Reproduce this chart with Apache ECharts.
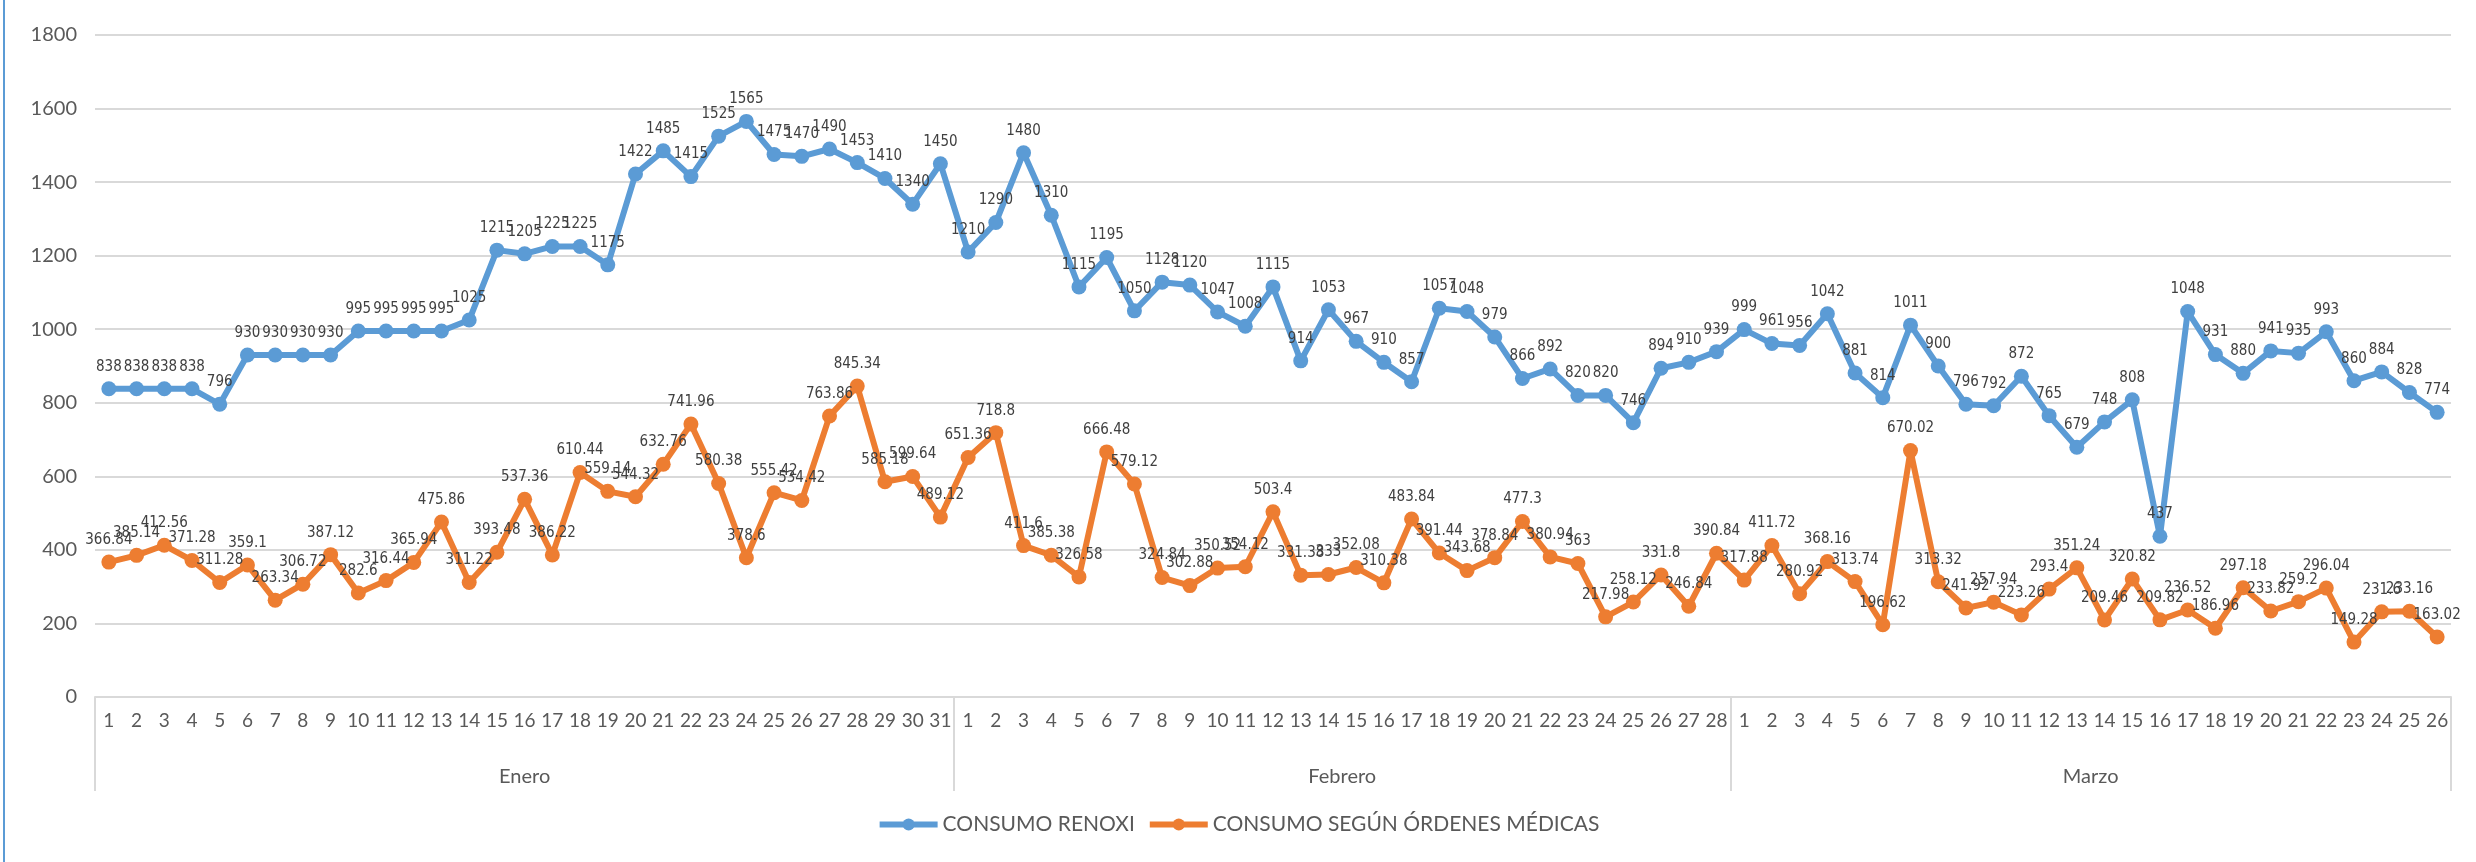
<!DOCTYPE html>
<html>
<head>
<meta charset="utf-8">
<title>Consumo</title>
<script src="https://cdn.jsdelivr.net/npm/echarts@6/dist/echarts.min.js"></script>
<style>
  html, body { margin: 0; padding: 0; background: #fff; }
  #chart { width: 2476px; height: 862px; position: relative; }
  #edge { position: absolute; left: 3px; top: 0; width: 2px; height: 862px; background: #5B9BD5; }
</style>
</head>
<body>
<div id="chart"></div>
<div id="edge"></div>
<script>
const monthNames = ["Enero", "Febrero", "Marzo"];
const monthDays = [31, 28, 26];

const renoxi = [
  838, 838, 838, 838, 796, 930, 930, 930, 930, 995, 995, 995, 995, 1025, 1215, 1205,
  1225, 1225, 1175, 1422, 1485, 1415, 1525, 1565, 1475, 1470, 1490, 1453, 1410, 1340, 1450,
  1210, 1290, 1480, 1310, 1115, 1195, 1050, 1128, 1120, 1047, 1008, 1115, 914, 1053,
  967, 910, 857, 1057, 1048, 979, 866, 892, 820, 820, 746, 894, 910, 939,
  999, 961, 956, 1042, 881, 814, 1011, 900, 796, 792, 872, 765, 679, 748, 808, 437,
  1048, 931, 880, 941, 935, 993, 860, 884, 828, 774
];

const ordenes = [
  366.84, 385.14, 412.56, 371.28, 311.28, 359.1, 263.34, 306.72, 387.12, 282.6, 316.44,
  365.94, 475.86, 311.22, 393.48, 537.36, 386.22, 610.44, 559.14, 544.32, 632.76, 741.96,
  580.38, 378.6, 555.42, 534.42, 763.86, 845.34, 585.18, 599.64, 489.12,
  651.36, 718.8, 411.6, 385.38, 326.58, 666.48, 579.12, 324.84, 302.88, 350.52, 354.12,
  503.4, 331.38, 333, 352.08, 310.38, 483.84, 391.44, 343.68, 378.84, 477.3, 380.94, 363,
  217.98, 258.12, 331.8, 246.84, 390.84,
  317.88, 411.72, 280.92, 368.16, 313.74, 196.62, 670.02, 313.32, 241.92, 257.94, 223.26,
  293.4, 351.24, 209.46, 320.82, 209.82, 236.52, 186.96, 297.18, 233.82, 259.2, 296.04,
  149.28, 231.6, 233.16, 163.02
];

const seriesNames = ["CONSUMO RENOXI", "CONSUMO SEGÚN ÓRDENES MÉDICAS"];

// etiquetas de dia (1..n por mes)
const dayLabels = [];
monthDays.forEach((n) => {
  for (let d = 1; d <= n; d++) dayLabels.push(String(d));
});

// eje de meses: medias posiciones, para poner separadores y nombres centrados
const totalDays = dayLabels.length;
const halfSlots = [];
const monthCenters = {};
const monthEdges = new Set([0]);
let acc = 0;
monthDays.forEach((n, i) => {
  monthCenters[acc * 2 + n] = monthNames[i];
  acc += n;
  monthEdges.add(acc * 2);
});
for (let i = 0; i <= totalDays * 2; i++) halfSlots.push(monthCenters[i] || "");

const font = "Lato, 'Open Sans', sans-serif";
const narrow = "'Liberation Sans Narrow', 'DejaVu Sans Condensed', Lato, sans-serif";
const chart = echarts.init(document.getElementById("chart"));

const labelStyle = {
  show: true,
  position: "top",
  distance: 7,
  color: "#404040",
  fontSize: 15,
  fontFamily: narrow,
};

chart.setOption({
  animation: false,
  grid: { left: 95, right: 25, top: 35, bottom: 165 },
  legend: {
    bottom: 22,
    left: "center",
    itemWidth: 58,
    itemHeight: 15,
    itemGap: 12,
    lineStyle: { width: 6 },
    textStyle: { color: "#595959", fontSize: 21, fontFamily: font },
    data: seriesNames,
  },
  xAxis: [
    {
      type: "category",
      data: dayLabels,
      boundaryGap: true,
      axisLine: { show: true, lineStyle: { color: "#D9D9D9", width: 2 } },
      axisTick: { show: false },
      axisLabel: {
        interval: 0,
        margin: 14,
        color: "#595959",
        fontSize: 19,
        fontFamily: font,
      },
    },
    {
      type: "category",
      data: halfSlots,
      position: "bottom",
      boundaryGap: false,
      axisLine: { show: false },
      axisTick: {
        show: true,
        length: 94,
        interval: (idx) => monthEdges.has(idx),
        lineStyle: { color: "#D9D9D9", width: 2 },
      },
      axisLabel: {
        interval: (idx) => halfSlots[idx] !== "",
        margin: 70,
        color: "#595959",
        fontSize: 20,
        fontFamily: font,
      },
    },
  ],
  yAxis: {
    type: "value",
    min: 0,
    max: 1800,
    interval: 200,
    axisLine: { show: false },
    axisTick: { show: false },
    splitLine: { lineStyle: { color: "#D9D9D9", width: 2 } },
    axisLabel: {
      margin: 18,
      color: "#595959",
      fontSize: 20,
      fontFamily: font,
      formatter: (v) => String(v),
    },
  },
  series: [
    {
      name: seriesNames[0],
      type: "line",
      xAxisIndex: 0,
      data: renoxi,
      symbol: "circle",
      symbolSize: 15,
      color: "#5B9BD5",
      lineStyle: { width: 6 },
      label: labelStyle,
    },
    {
      name: seriesNames[1],
      type: "line",
      xAxisIndex: 0,
      data: ordenes,
      symbol: "circle",
      symbolSize: 15,
      color: "#ED7D31",
      lineStyle: { width: 6 },
      label: labelStyle,
    },
  ],
});
</script>
</body>
</html>
